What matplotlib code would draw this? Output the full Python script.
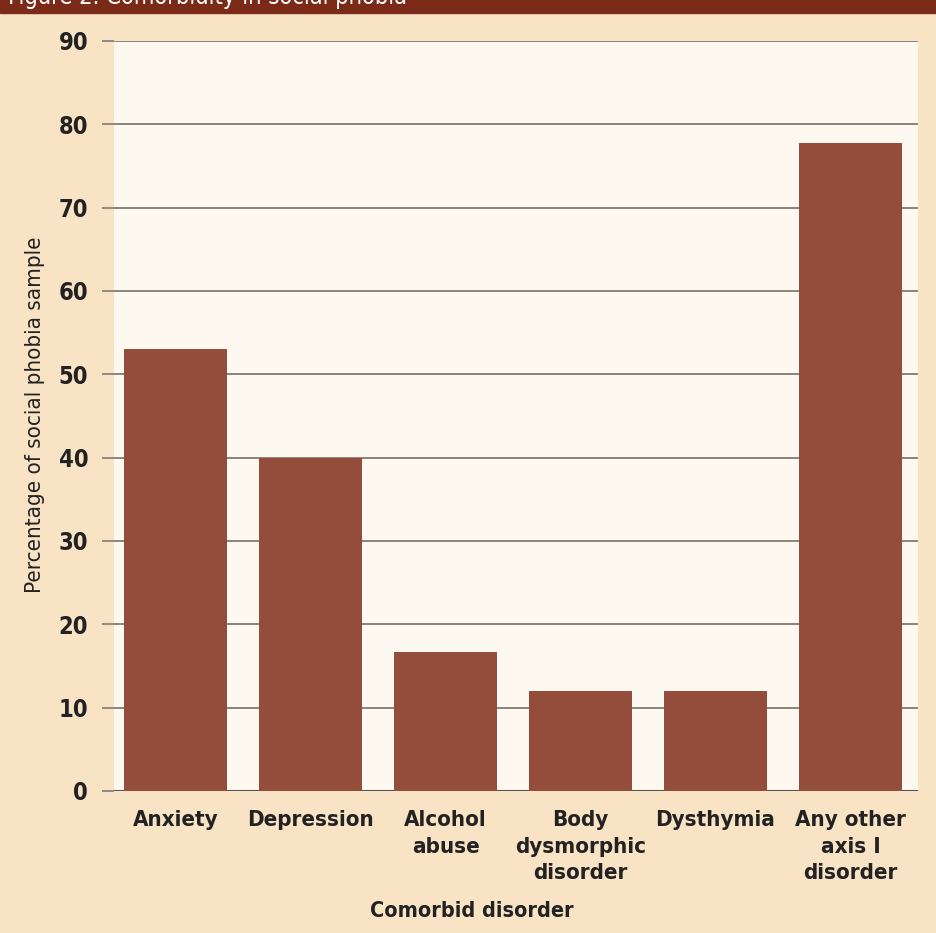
import numpy as np
import matplotlib.pyplot as plt

# comorbid disorders and % of social phobia sample
disorders = ["Anxiety", "Depression", "Alcohol\nabuse", "Body\ndysmorphic\ndisorder",
             "Dysthymia", "Any other\naxis I\ndisorder"]
percent = [53, 40, 16.7, 12, 12, 77.8]
yticks = [0, 10, 20, 30, 40, 50, 60, 70, 80, 90]

bg = "#F9E3C5"
panel = "#FDF9F1"
bar_col = "#934D3A"
grid_col = "#8A8478"
banner_col = "#7B2A17"

plt.rcParams['font.family'] = ['DejaVu Sans']
plt.rcParams['font.stretch'] = 'condensed'

fig = plt.figure(figsize=(9.36, 9.33), dpi=100, facecolor=bg)
ax = fig.add_axes([114/936, 1 - 791/933, 804/936, 750/933])
ax.set_facecolor(panel)

x = np.arange(len(disorders))
ax.bar(x, percent, width=0.763, color=bar_col, zorder=3)

ax.set_xlim(-0.456, 5.5)
ax.set_ylim(0, 90)
ax.set_yticks(yticks)
ax.set_xticks(x)
ax.set_xticklabels(disorders, fontsize=16, fontweight='bold', color='#222222',
                   linespacing=1.4)
ax.tick_params(axis='x', length=0, pad=14)
ax.tick_params(axis='y', length=8.6, width=1.3, color=grid_col, pad=10,
               labelsize=17, labelcolor='#222222')
for lab in ax.get_yticklabels():
    lab.set_fontweight('bold')

for v in yticks[1:]:
    ax.axhline(v, color=grid_col, lw=1.4, zorder=1)
ax.axhline(0, color='#555555', lw=1.5, zorder=2)

for s in ax.spines.values():
    s.set_visible(False)

fig.text(35/936, 1 - 415/933, "Percentage of social phobia sample", rotation=90,
         ha='center', va='center', fontsize=16, color='#222222')
fig.text(472/936, 1 - 911/933, "Comorbid disorder", ha='center', va='center',
         fontsize=15.5, fontweight='bold', color='#222222')

# title banner along the top edge
fig.patches.append(plt.Rectangle((0, 1 - 13/933), 1, 13/933, transform=fig.transFigure,
                                 color=banner_col, zorder=0))
fig.text(8/936, 1 - 4/933, "Figure 2. Comorbidity in social phobia", ha='left',
         va='baseline', fontsize=17, color='white')

fig.savefig("out.png", dpi=100, facecolor=bg)
